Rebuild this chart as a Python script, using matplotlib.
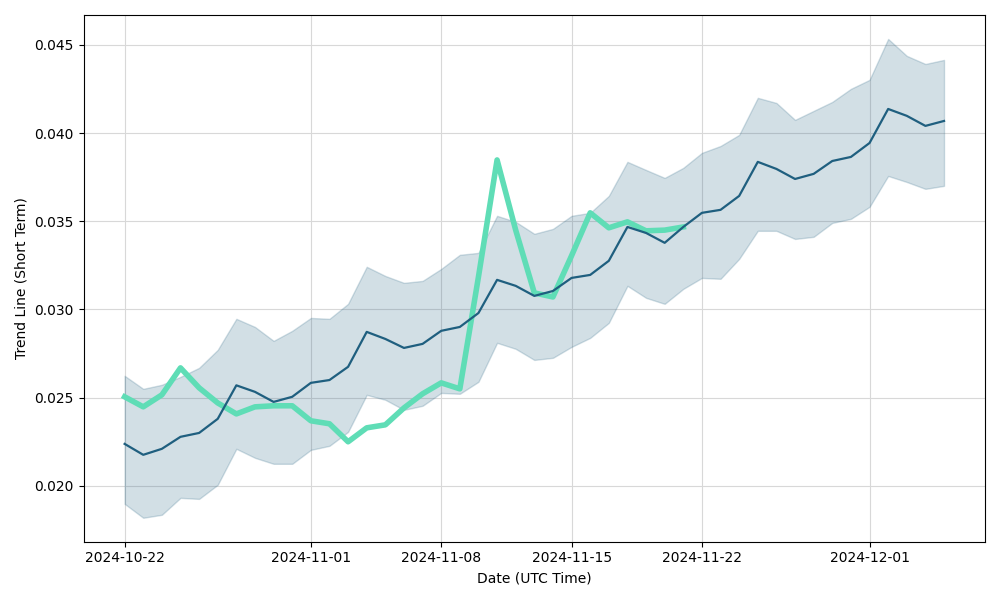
import matplotlib
matplotlib.use("Agg")
import matplotlib.pyplot as plt
import matplotlib.dates as mdates
import pandas as pd

dates = pd.date_range("2024-10-22", "2024-12-05", freq="D")

trend = [0.02238, 0.02176, 0.0221, 0.02278, 0.0230, 0.0238, 0.0257, 0.02533, 0.02476, 0.02505,
         0.02584, 0.0260, 0.02675, 0.02873, 0.02833, 0.02782, 0.02805, 0.02879, 0.02901, 0.0298,
         0.03168, 0.03134, 0.03077, 0.03105, 0.03179, 0.03196, 0.03276, 0.03468, 0.03434, 0.03378,
         0.03468, 0.03548, 0.03565, 0.03644, 0.03837, 0.03797, 0.0374, 0.03769, 0.03842, 0.03865,
         0.03944, 0.04137, 0.04098, 0.04041, 0.04069]

upper = [0.02624, 0.0255, 0.02573, 0.02618, 0.02669, 0.02771, 0.02947, 0.02901, 0.02822, 0.02879,
         0.02952, 0.02947, 0.03032, 0.03242, 0.0319, 0.03151, 0.03162, 0.0323, 0.0331, 0.03321,
         0.03531, 0.03497, 0.03429, 0.03457, 0.03531, 0.03548, 0.03644, 0.03837, 0.03791, 0.03746,
         0.03803, 0.03888, 0.03927, 0.0399, 0.042, 0.04171, 0.04075, 0.04126, 0.04177, 0.04251,
         0.04302, 0.04534, 0.04438, 0.04392, 0.04415]

lower = [0.01898, 0.01819, 0.01836, 0.01932, 0.01926, 0.02006, 0.0221, 0.02159, 0.02125, 0.02125,
         0.02204, 0.02227, 0.02306, 0.02516, 0.02488, 0.02431, 0.02454, 0.02527, 0.02522, 0.0259,
         0.02811, 0.02777, 0.02714, 0.02726, 0.02788, 0.02839, 0.02924, 0.03134, 0.03066, 0.03032,
         0.03117, 0.03179, 0.03174, 0.03287, 0.03446, 0.03446, 0.034, 0.03412, 0.03491, 0.03514,
         0.03582, 0.03757, 0.03723, 0.03684, 0.03701]

price = [0.02505, 0.02448, 0.02516, 0.02669, 0.02556, 0.0247, 0.02408, 0.02448, 0.02454, 0.02454,
         0.02369, 0.02352, 0.0225, 0.02329, 0.02346, 0.02442, 0.02522, 0.02584, 0.0255, 0.03185,
         0.03848, 0.0345, 0.03094, 0.03071, 0.03305, 0.03548, 0.03463, 0.03497, 0.03446, 0.0345,
         0.03468]

tick_labels = ["2024-10-22", "2024-11-01", "2024-11-08", "2024-11-15", "2024-11-22", "2024-12-01"]

fig, ax = plt.subplots(figsize=(10, 6), dpi=100)
ax.fill_between(dates, lower, upper, color="#1f5f7f", alpha=0.2)
ax.plot(dates[:len(price)], price, color="#5fddb6", linewidth=4)
ax.plot(dates, trend, color="#1f5f7f", linewidth=1.6)

ax.set_xticks(pd.to_datetime(tick_labels))
ax.xaxis.set_major_formatter(mdates.DateFormatter("%Y-%m-%d"))
ax.grid(True, color="#d8d8d8", linewidth=0.8)
ax.set_axisbelow(True)
ax.set_xlabel("Date (UTC Time)")
ax.set_ylabel("Trend Line (Short Term)")
fig.tight_layout()
fig.savefig("out.png")
